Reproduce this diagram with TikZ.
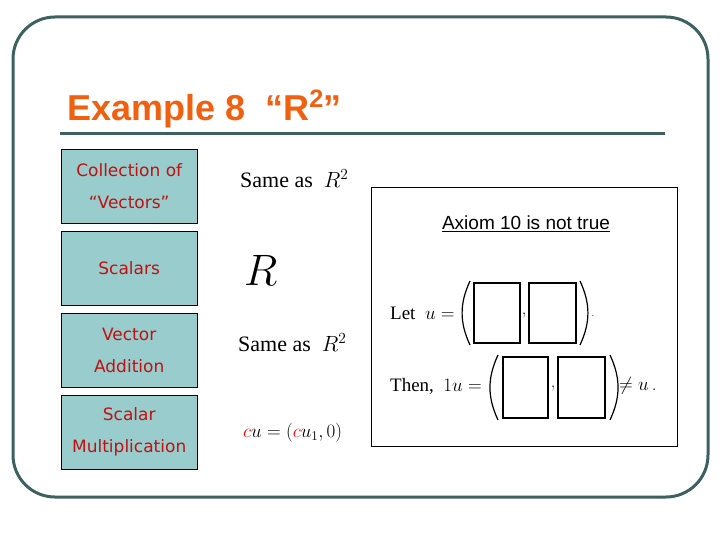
\RequirePackage{fix-cm}
\documentclass[tikz,border=0pt]{standalone}
\usepackage{fontspec}
\setsansfont{DejaVu Sans}
\newfontfamily\arialf{Liberation Sans}
\newfontfamily\timesf{Liberation Serif}
\begin{document}
\begin{tikzpicture}[x=1pt,y=-1pt,
  lbox/.style={draw=black,fill=boxc,minimum width=136pt,minimum height=74pt,anchor=north west,align=center,font=\sffamily\fontsize{17}{32}\selectfont,text=redt,inner sep=0pt},
  mtext/.style={anchor=west,inner sep=0pt,font=\timesf\fontsize{22}{24}\selectfont},
  paren/.style={line width=1.2pt}]
\definecolor{framec}{HTML}{3D6060}
\definecolor{boxc}{HTML}{99CCCC}
\definecolor{orangec}{HTML}{F06010}
\definecolor{redt}{HTML}{C01010}
\useasboundingbox (0,0) rectangle (720,540);
\draw[framec,line width=3pt,rounded corners=42pt] (13,17) rectangle (708,497);
\node[anchor=base west,text=orangec,font=\arialf\bfseries\fontsize{36}{38}\selectfont,inner sep=0pt] (title) at (67,121) {Example 8\ \ “R\textsuperscript{2}”};
\draw[framec,line width=3pt] (60,134) coordinate (ul) -- (665,134) coordinate (ur);
\node[lbox] (b1) at (61,149) {Collection of\\“Vectors”};
\node[lbox] (b2) at (61,231) {Scalars};
\node[lbox] (b3) at (61,313) {Vector\\Addition};
\node[lbox] (b4) at (61,395) {Scalar\\Multiplication};
\node[mtext] (t1) at (240,179) {Same as\ \ $R^2$};
\node[mtext,font=\fontsize{44}{46}\selectfont] (t2) at (244,270) {$R$};
\node[mtext] (t3) at (238,343) {Same as\ \ $R^2$};
\node[mtext,font=\fontsize{19}{22}\selectfont] (t4) at (243,433) {$\color{red}c\color{black}u=\left(\color{red}c\color{black}u_1,0\right)$};
\draw[black] (371,187) rectangle (677,446);
\node[font=\arialf\fontsize{19}{21}\selectfont,inner sep=0pt] (ax) at (526,224) {\underline{Axiom 10 is not true}};
\node[mtext,font=\timesf\fontsize{19}{22}\selectfont] (let) at (390,313) {Let\ \ $u=$};
\draw[line width=1.3pt] (474,283) rectangle (520,343);
\draw[line width=1.3pt] (529,283) rectangle (576,343);
\draw[paren] (470,281) to[bend right=25] (470,345);
\draw[paren] (580,281) to[bend left=25] (580,345);
\node[inner sep=0pt,font=\fontsize{18}{20}\selectfont] (c1) at (524,316) {,};
\node[inner sep=0pt] (d1) at (593,316) {.};
\node[mtext,font=\timesf\fontsize{19}{22}\selectfont] (then) at (390,386) {Then,\ \ $1u=$};
\draw[line width=1.3pt] (503,357) rectangle (548,418);
\draw[line width=1.3pt] (558,357) rectangle (605,418);
\draw[paren] (498,355) to[bend right=25] (498,420);
\draw[paren] (610,355) to[bend left=25] (610,420);
\node[inner sep=0pt,font=\fontsize{18}{20}\selectfont] (c2) at (553,389) {,};
\node[anchor=west,inner sep=0pt,font=\fontsize{19}{22}\selectfont] (neq) at (619,386) {$\neq u$\,.};
\end{tikzpicture}
\end{document}
